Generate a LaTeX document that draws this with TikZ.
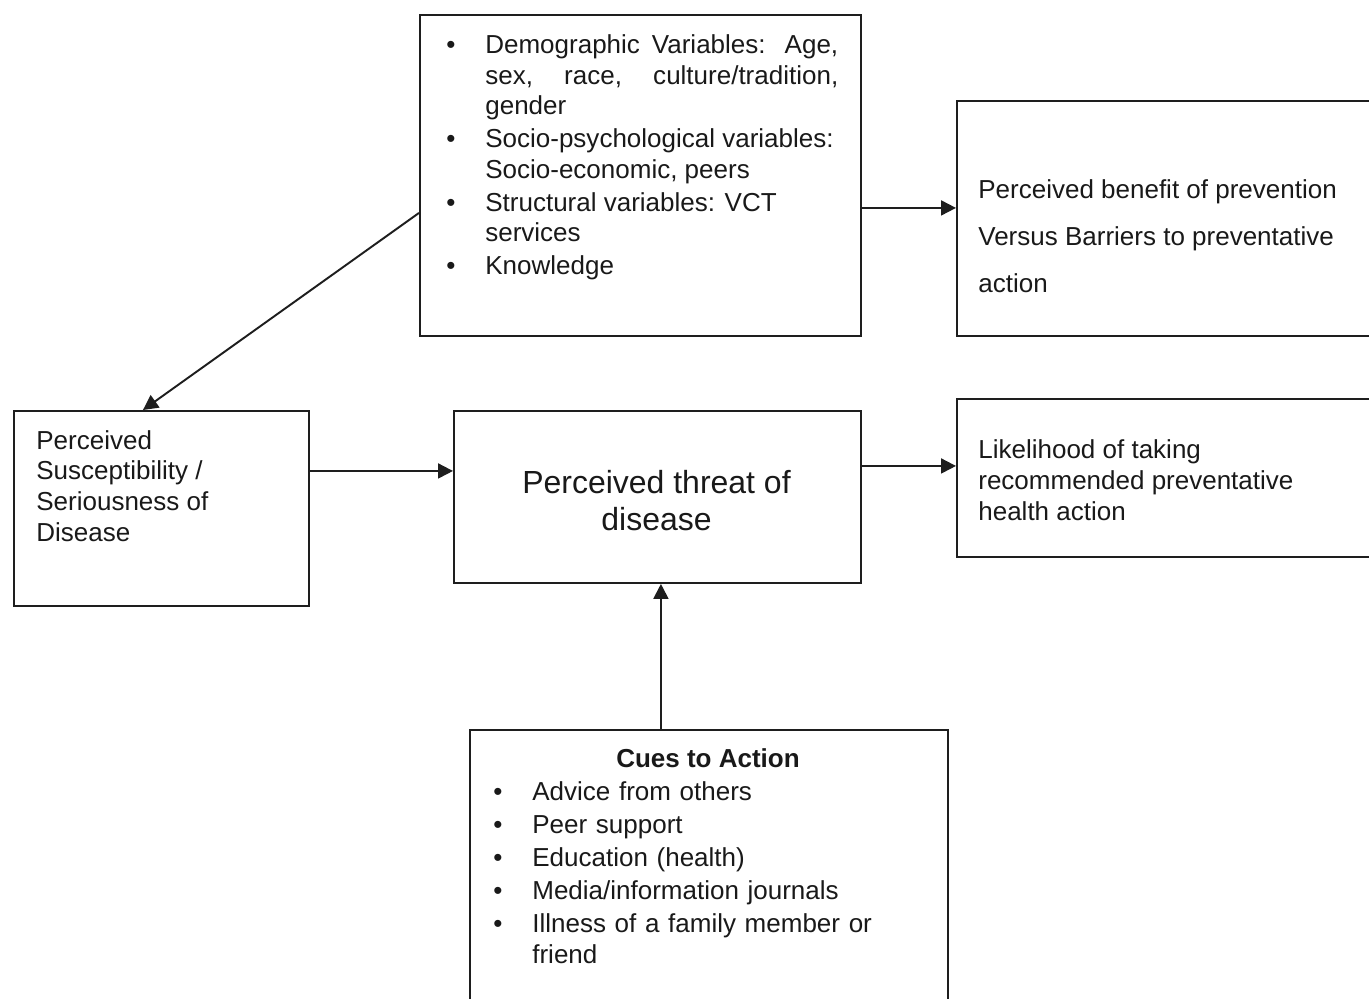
\documentclass[tikz,border=0pt]{standalone}
\usepackage{fontspec}
\setmainfont{Liberation Sans}
\usetikzlibrary{arrows.meta}

\definecolor{hbmLine}{RGB}{30,30,30}
\definecolor{hbmInk}{RGB}{25,25,25}

\newenvironment{hbmbullets}{%
  \begin{list}{\textbullet}{%
      \setlength{\leftmargin}{0.78cm}%
      \settowidth{\labelwidth}{\textbullet}%
      \setlength{\labelsep}{\dimexpr\leftmargin-\labelwidth\relax}%
      \setlength{\itemsep}{1.4pt}%
      \setlength{\parsep}{0pt}%
      \setlength{\topsep}{0pt}%
      \setlength{\partopsep}{0pt}}%
}{\end{list}}

\tikzset{hbmBox/.style={
    draw=hbmLine,
    line width=1.1pt,
    anchor=north west,
    inner sep=0pt,
  }
}
\tikzset{hbmArrow/.style={
    -{Triangle[length=0.3cm,width=0.3cm]},
    line width=1.1pt,
    hbmLine,
  }
}
\tikzset{hbmText/.style={
    font=\fontsize{14.8}{17.4}\selectfont,
    text=hbmInk,
    inner sep=0pt,
    anchor=base west,
    align=left,
  }
}

\newcommand{\hbmDrawBoxes}{
  \node [hbmBox, minimum width=8.82cm, minimum height=6.42cm] (demo) at (419,14) {};
  \node [hbmBox, minimum width=9.6cm, minimum height=4.7cm] (benefit) at (956,100) {};
  \node [hbmBox, minimum width=5.9cm, minimum height=3.9cm] (suscept) at (13,410) {};
  \node [hbmBox, minimum width=8.14cm, minimum height=3.44cm] (threat) at (453,410) {};
  \node [hbmBox, minimum width=9.6cm, minimum height=3.16cm] (likely) at (956,398) {};
  \node [hbmBox, minimum width=9.56cm, minimum height=6cm] (cues) at (469,729) {};
}
\newcommand{\hbmConnectBoxes}{
  \coordinate (a1) at ([yshift=-0.65cm]demo.east);
  \coordinate (a2) at ([yshift=-0.75cm]demo.west);
  \coordinate (a3) at ([yshift=0.75cm]suscept.east);
  \coordinate (a4) at ([yshift=0.62cm]threat.east);
  \coordinate (a5) at ([xshift=-0.96cm]cues.north);
  \draw[hbmArrow] (a1) -- (a1 -| benefit.west);
  \draw[hbmArrow] (a2) -- ([xshift=-0.37cm]suscept.north);
  \draw[hbmArrow] (a3) -- (a3 -| threat.west);
  \draw[hbmArrow] (a4) -- (a4 -| likely.west);
  \draw[hbmArrow] (a5) -- (a5 |- threat.south);
}

\begin{document}
\begin{tikzpicture}[x=0.02cm, y=-0.02cm]
  \useasboundingbox (0,0) rectangle (1369,998);
  \clip (0,0) rectangle (1369,998);
  \hbmDrawBoxes
  \hbmConnectBoxes

  % list nodes sit one line above their first baseline
  \node [hbmText, text width=7.84cm, align=justify] (demoText) at (446,23) {%
    \begin{hbmbullets}
    \item Demographic Variables: Age, sex, race, culture/tradition, gender\par
      \raggedright
    \item Socio-psychological variables: Socio-economic, peers
    \item Structural variables: VCT services
    \item Knowledge
    \end{hbmbullets}};
  % multi-line nodes below are placed by their last baseline
  \node [hbmText, font=\fontsize{14.8}{26.6}\selectfont] (benefitText) at (978,292)
    {Perceived benefit of prevention\\Versus Barriers to preventative\\action};
  \node [hbmText] (suscText) at (36,541)
    {Perceived\\Susceptibility /\\Seriousness of\\Disease};
  \node [hbmText, font=\fontsize{18.2}{21}\selectfont, anchor=base, align=center] (threatText)
    at (656.5,530) {Perceived threat of\\disease};
  \node [hbmText] (likelyText) at (978,520)
    {Likelihood of taking\\recommended preventative\\health action};
  \node [hbmText, font=\fontsize{14.8}{17.4}\selectfont\bfseries, anchor=base] (cuesTitle)
    at (708,767) {Cues to Action};
  \node [hbmText, text width=8.5cm] (cuesText) at (493,770) {%
    \begin{hbmbullets}
    \item Advice from others
    \item Peer support
    \item Education (health)
    \item Media/information journals
    \item Illness of a family member or\\friend
    \end{hbmbullets}};
\end{tikzpicture}
\end{document}
